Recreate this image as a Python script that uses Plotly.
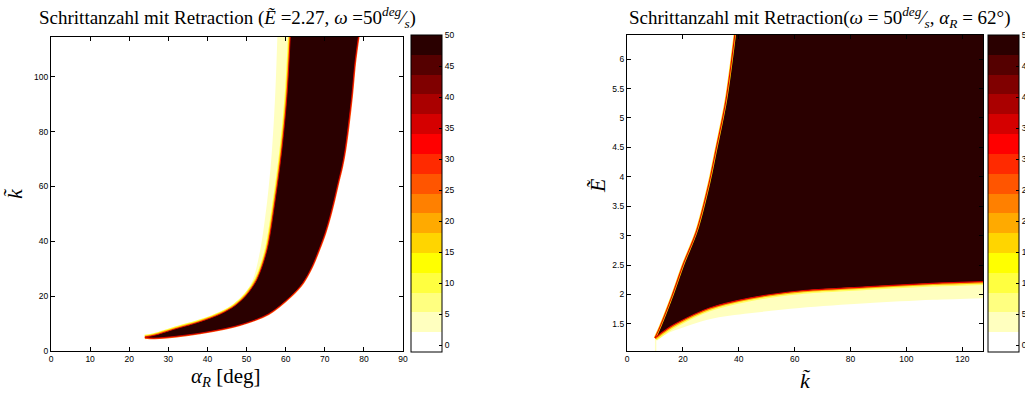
import plotly.graph_objects as go

# ---------------- left panel: alpha_R [deg] vs k~ ----------------
# upper/left edge of the saturated band
alpha_upper = [24.0, 26.6, 30.9, 38.1, 43.3, 47.0, 50.0, 52.6, 55.2, 57.3, 59.0, 60.3, 61.2]
k_upper = [5.1, 5.8, 7.7, 10.7, 13.5, 16.5, 20.5, 26.0, 36.8, 55.0, 73.3, 92.7, 115.5]
# lower/right edge of the saturated band
alpha_lower = [24.0, 26.6, 38.1, 48.3, 55.6, 61.2, 64.4, 66.7, 68.5, 70.1,
               71.3, 72.4, 73.4, 74.4, 75.2, 76.9, 77.7, 78.7]
k_lower = [4.9, 4.7, 6.5, 9.5, 13.5, 19.8, 24.8, 30.6, 36.8, 43.0,
           48.8, 55.0, 61.2, 67.1, 73.3, 92.7, 104.8, 115.5]
# outer border of the low-count fringe left of the band
alpha_fringe = [25.0, 30.3, 37.2, 42.6, 46.2, 49.3, 51.6, 53.5, 55.3, 56.5, 57.3, 57.9]
k_fringe = [5.5, 7.7, 10.7, 13.5, 16.5, 20.5, 26.0, 36.8, 55.0, 73.3, 92.7, 115.5]

# ---------------- right panel: k~ vs E~ ----------------
k_left = [10.0, 11.8, 16.0, 20.1, 24.9, 29.3, 31.8, 35.4, 38.7]
E_left = [1.26, 1.45, 1.96, 2.51, 3.08, 3.88, 4.45, 5.30, 6.46]
k_low = [10.0, 14.2, 17.7, 29.6, 43.9, 61.8, 85.6, 109.5, 128.5]
E_low = [1.26, 1.41, 1.51, 1.77, 1.94, 2.06, 2.13, 2.19, 2.22]
k_fringe2 = [10.5, 14.2, 17.7, 29.6, 43.9, 61.8, 85.6, 109.5, 128.5]
E_fringe2 = [1.23, 1.33, 1.40, 1.58, 1.68, 1.77, 1.85, 1.91, 1.94]

# axis ranges
ALPHA_RANGE = [0, 90]
K_RANGE_L = [0, 114.5]
K_RANGE_R = [0, 127.4]
E_RANGE = [1.04, 6.41]

# colour levels (reversed "hot", 16 steps)
level_colors = ["#ffffff", "#ffffbf", "#ffff80", "#ffff40", "#ffff00", "#ffd500",
                "#ffaa00", "#ff8000", "#ff5500", "#ff2a00", "#ff0000", "#d50000",
                "#aa0000", "#800000", "#550000", "#2a0000"]
cbar_ticks = [0, 5, 10, 15, 20, 25, 30, 35, 40, 45, 50]
C_MIN, C_MAX = -1.1, 50

DARK = level_colors[-1]
PALE = level_colors[1]

colorscale = []
n = len(level_colors)
for i, c in enumerate(level_colors):
    colorscale.append([i / n, c])
    colorscale.append([(i + 1) / n, c])

W, H = 1025, 393
TICKFONT = dict(family="Liberation Sans, Arial, sans-serif", size=8.5, color="black")
SERIF = "Liberation Serif, Times New Roman, serif"

fig = go.Figure()

def curve(xs, ys, xa, ya, fill="none", fillcolor=None, color="rgba(0,0,0,0)", width=0,
          shape="spline"):
    fig.add_trace(go.Scatter(
        x=xs, y=ys, mode="lines", fill=fill, fillcolor=fillcolor,
        line=dict(color=color, width=width, shape=shape, smoothing=0.9),
        xaxis=xa, yaxis=ya, hoverinfo="skip", showlegend=False))

# ---- left panel: fringe, edge strokes, then the band on top ----
curve(alpha_lower, k_lower, "x", "y")
curve(alpha_fringe, k_fringe, "x", "y", fill="tonextx", fillcolor=PALE)
curve(alpha_upper, k_upper, "x", "y", color="#ffff40", width=4.5)
curve(alpha_upper, k_upper, "x", "y", color="#ffaa00", width=2.6)
curve(alpha_lower, k_lower, "x", "y", color="#ff5500", width=2.2)
curve(alpha_lower, k_lower, "x", "y")
curve(alpha_upper, k_upper, "x", "y", fill="tonextx", fillcolor=DARK)
curve(alpha_upper, k_upper, "x", "y", color="#e00000", width=0.9)
curve(alpha_lower, k_lower, "x", "y", color="#e00000", width=0.9)

# ---- right panel ----
# fringe below the lower edge
curve(k_low, E_low, "x2", "y2", fill="tozeroy", fillcolor=PALE)
curve(k_fringe2, E_fringe2, "x2", "y2", fill="tozeroy", fillcolor="#ffffff")
curve(k_low, E_low, "x2", "y2", color="#ffff60", width=6.5)
curve(k_low, E_low, "x2", "y2", color="#ffaa00", width=3.5)
# saturated area above the lower edge, cut back left of the left edge
curve(k_low, E_low, "x2", "y2")
curve([k_low[0], k_low[-1]], [E_left[-1], E_left[-1]], "x2", "y2",
      fill="tonexty", fillcolor=DARK, shape="linear")
curve(k_left, E_left, "x2", "y2", fill="tozerox", fillcolor="#ffffff")
curve(k_left, E_left, "x2", "y2", color="#ffd500", width=2.4)
curve(k_left, E_left, "x2", "y2", color="#e00000", width=1.1)
curve(k_low, E_low, "x2", "y2", color="#e00000", width=1.2)

def add_cbar(x_px, xa, ya):
    fig.add_trace(go.Scatter(
        x=[-50], y=[-50], mode="markers", xaxis=xa, yaxis=ya, hoverinfo="skip",
        showlegend=False,
        marker=dict(size=1, color=[0], colorscale=colorscale, cmin=C_MIN, cmax=C_MAX,
                    showscale=True,
                    colorbar=dict(x=x_px / W, xanchor="left", y=1 - 193.5 / H,
                                  yanchor="middle", len=317, lenmode="pixels",
                                  thickness=31, thicknessmode="pixels",
                                  outlinewidth=1, outlinecolor="black",
                                  tickvals=cbar_ticks, ticks="inside", ticklen=3,
                                  tickcolor="black", tickfont=TICKFONT,
                                  xpad=0, ypad=0, bgcolor="rgba(0,0,0,0)"))))

add_cbar(410.5, "x", "y")
add_cbar(987.5, "x2", "y2")

axis_common = dict(showline=True, mirror="ticks", linecolor="black", linewidth=1.3,
                   ticks="inside", ticklen=4, tickcolor="black", tickfont=TICKFONT,
                   showgrid=False, zeroline=False, layer="above traces")

fig.update_layout(
    width=W, height=H,
    margin=dict(l=0, r=0, t=0, b=0, autoexpand=False),
    paper_bgcolor="white", plot_bgcolor="white",
    xaxis=dict(domain=[51 / W, 403 / W], range=ALPHA_RANGE, tickvals=list(range(0, 91, 10)),
               anchor="y", **axis_common),
    yaxis=dict(domain=[1 - 351 / H, 1 - 37 / H], range=K_RANGE_L,
               tickvals=list(range(0, 101, 20)), anchor="x", **axis_common),
    xaxis2=dict(domain=[627 / W, 983 / W], range=K_RANGE_R,
                tickvals=list(range(0, 121, 20)), anchor="y2", **axis_common),
    yaxis2=dict(domain=[1 - 351 / H, 1 - 35 / H], range=E_RANGE,
                tickvals=[1.5, 2, 2.5, 3, 3.5, 4, 4.5, 5, 5.5, 6], anchor="x2", **axis_common),
    showlegend=False,
)

def txt(x_px, y_px, text, size, angle=0):
    fig.add_annotation(x=x_px / W, y=1 - y_px / H, xref="paper", yref="paper",
                       text=text, showarrow=False, textangle=angle,
                       xanchor="center", yanchor="middle",
                       font=dict(family=SERIF, size=size, color="black"))

txt(227, 17, "Schrittanzahl mit Retraction (<i>Ẽ</i> =2.27, <i>ω</i> =50"
    "<sup><i>deg</i></sup>⁄<sub><i>s</i></sub>)", 19)
txt(820, 17, "Schrittanzahl mit Retraction(<i>ω</i> = 50<sup><i>deg</i></sup>⁄"
    "<sub><i>s</i></sub>, <i>α<sub>R</sub></i> = 62°)", 19)
txt(226, 377, "<i>α<sub>R</sub></i> [deg]", 21)
txt(805, 380, "<i>k̃</i>", 22)
txt(14, 194, "<i>k̃</i>", 22, angle=-90)
txt(597, 186, "<i>Ẽ</i>", 22, angle=-90)

fig.write_html("out.html")
